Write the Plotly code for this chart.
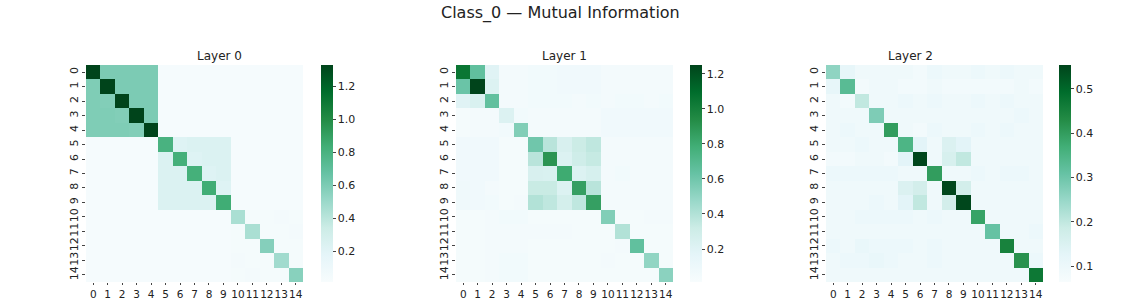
import plotly.graph_objects as go

labels = [str(i) for i in range(15)]
title_text = "Class_0 — Mutual Information"
layer_titles = ["Layer 0", "Layer 1", "Layer 2"]

layer0 = [
    [1.33, 0.60, 0.60, 0.60, 0.60, 0.03, 0.03, 0.03, 0.03, 0.03, 0.03, 0.03, 0.03, 0.03, 0.03],
    [0.59, 1.33, 0.60, 0.60, 0.60, 0.03, 0.03, 0.03, 0.03, 0.03, 0.03, 0.03, 0.03, 0.03, 0.03],
    [0.59, 0.58, 1.33, 0.60, 0.60, 0.03, 0.03, 0.03, 0.03, 0.03, 0.03, 0.03, 0.03, 0.03, 0.03],
    [0.59, 0.59, 0.58, 1.33, 0.60, 0.03, 0.03, 0.03, 0.03, 0.03, 0.03, 0.03, 0.03, 0.03, 0.03],
    [0.59, 0.59, 0.59, 0.58, 1.33, 0.03, 0.03, 0.03, 0.03, 0.03, 0.03, 0.03, 0.03, 0.03, 0.03],
    [0.03, 0.03, 0.03, 0.03, 0.03, 0.80, 0.22, 0.24, 0.24, 0.24, 0.03, 0.03, 0.03, 0.03, 0.03],
    [0.03, 0.03, 0.03, 0.03, 0.03, 0.24, 0.82, 0.22, 0.24, 0.24, 0.03, 0.03, 0.03, 0.03, 0.03],
    [0.03, 0.03, 0.03, 0.03, 0.03, 0.24, 0.24, 0.82, 0.22, 0.24, 0.03, 0.03, 0.03, 0.03, 0.03],
    [0.03, 0.03, 0.03, 0.03, 0.03, 0.24, 0.24, 0.24, 0.84, 0.22, 0.03, 0.03, 0.03, 0.03, 0.03],
    [0.03, 0.03, 0.03, 0.03, 0.03, 0.24, 0.24, 0.24, 0.24, 0.84, 0.03, 0.03, 0.03, 0.03, 0.03],
    [0.03, 0.03, 0.03, 0.03, 0.03, 0.03, 0.03, 0.03, 0.03, 0.03, 0.45, 0.04, 0.04, 0.05, 0.04],
    [0.03, 0.03, 0.03, 0.03, 0.03, 0.03, 0.03, 0.03, 0.03, 0.03, 0.04, 0.45, 0.04, 0.04, 0.05],
    [0.03, 0.03, 0.03, 0.03, 0.03, 0.03, 0.03, 0.03, 0.03, 0.03, 0.04, 0.04, 0.57, 0.04, 0.04],
    [0.03, 0.03, 0.03, 0.03, 0.03, 0.03, 0.03, 0.03, 0.03, 0.03, 0.05, 0.04, 0.04, 0.48, 0.04],
    [0.03, 0.03, 0.03, 0.03, 0.03, 0.03, 0.03, 0.03, 0.03, 0.03, 0.04, 0.05, 0.04, 0.04, 0.56],
]

layer1 = [
    [1.05, 0.65, 0.20, 0.05, 0.05, 0.06, 0.06, 0.07, 0.07, 0.07, 0.05, 0.05, 0.05, 0.05, 0.05],
    [0.62, 1.25, 0.22, 0.05, 0.05, 0.06, 0.06, 0.07, 0.07, 0.07, 0.05, 0.05, 0.05, 0.05, 0.05],
    [0.20, 0.24, 0.65, 0.05, 0.05, 0.06, 0.06, 0.06, 0.05, 0.06, 0.05, 0.06, 0.06, 0.05, 0.06],
    [0.04, 0.05, 0.05, 0.22, 0.06, 0.05, 0.05, 0.05, 0.05, 0.05, 0.07, 0.07, 0.07, 0.07, 0.07],
    [0.04, 0.05, 0.05, 0.06, 0.55, 0.05, 0.05, 0.05, 0.05, 0.05, 0.07, 0.07, 0.07, 0.07, 0.07],
    [0.07, 0.07, 0.07, 0.04, 0.04, 0.60, 0.38, 0.25, 0.32, 0.36, 0.05, 0.05, 0.05, 0.05, 0.05],
    [0.07, 0.07, 0.07, 0.04, 0.04, 0.38, 0.90, 0.22, 0.30, 0.34, 0.05, 0.05, 0.05, 0.05, 0.05],
    [0.07, 0.07, 0.07, 0.04, 0.04, 0.25, 0.24, 0.80, 0.22, 0.26, 0.05, 0.06, 0.05, 0.05, 0.05],
    [0.08, 0.07, 0.05, 0.04, 0.04, 0.33, 0.33, 0.22, 0.85, 0.38, 0.05, 0.05, 0.05, 0.05, 0.05],
    [0.08, 0.07, 0.06, 0.04, 0.05, 0.40, 0.36, 0.27, 0.36, 0.85, 0.05, 0.05, 0.05, 0.05, 0.05],
    [0.04, 0.04, 0.05, 0.06, 0.06, 0.04, 0.04, 0.04, 0.04, 0.04, 0.55, 0.04, 0.04, 0.05, 0.05],
    [0.04, 0.04, 0.05, 0.05, 0.05, 0.05, 0.05, 0.05, 0.04, 0.04, 0.04, 0.40, 0.04, 0.04, 0.04],
    [0.04, 0.04, 0.05, 0.05, 0.05, 0.04, 0.04, 0.04, 0.04, 0.04, 0.04, 0.05, 0.65, 0.04, 0.04],
    [0.04, 0.04, 0.05, 0.06, 0.06, 0.04, 0.04, 0.04, 0.04, 0.04, 0.05, 0.04, 0.04, 0.50, 0.04],
    [0.04, 0.04, 0.05, 0.06, 0.06, 0.04, 0.04, 0.04, 0.04, 0.04, 0.04, 0.04, 0.04, 0.04, 0.52],
]

layer2 = [
    [0.26, 0.12, 0.09, 0.09, 0.09, 0.09, 0.08, 0.10, 0.09, 0.09, 0.10, 0.09, 0.10, 0.09, 0.09],
    [0.12, 0.33, 0.08, 0.09, 0.09, 0.08, 0.08, 0.09, 0.08, 0.08, 0.08, 0.08, 0.08, 0.09, 0.08],
    [0.09, 0.08, 0.20, 0.09, 0.09, 0.10, 0.09, 0.10, 0.09, 0.09, 0.10, 0.09, 0.10, 0.09, 0.09],
    [0.09, 0.09, 0.09, 0.28, 0.09, 0.09, 0.09, 0.09, 0.09, 0.09, 0.09, 0.09, 0.09, 0.10, 0.09],
    [0.09, 0.10, 0.09, 0.09, 0.40, 0.09, 0.08, 0.10, 0.09, 0.09, 0.10, 0.09, 0.10, 0.09, 0.09],
    [0.09, 0.09, 0.10, 0.09, 0.09, 0.35, 0.13, 0.09, 0.15, 0.13, 0.09, 0.09, 0.09, 0.09, 0.09],
    [0.08, 0.08, 0.09, 0.09, 0.08, 0.13, 0.55, 0.09, 0.16, 0.20, 0.09, 0.09, 0.09, 0.09, 0.09],
    [0.10, 0.10, 0.10, 0.10, 0.10, 0.09, 0.09, 0.40, 0.09, 0.09, 0.10, 0.09, 0.10, 0.10, 0.09],
    [0.09, 0.09, 0.09, 0.09, 0.09, 0.15, 0.17, 0.09, 0.55, 0.17, 0.09, 0.09, 0.09, 0.09, 0.09],
    [0.09, 0.09, 0.09, 0.10, 0.09, 0.13, 0.20, 0.09, 0.17, 0.55, 0.09, 0.09, 0.09, 0.09, 0.09],
    [0.09, 0.09, 0.10, 0.10, 0.10, 0.10, 0.09, 0.10, 0.09, 0.09, 0.39, 0.09, 0.09, 0.09, 0.09],
    [0.09, 0.09, 0.09, 0.09, 0.09, 0.09, 0.09, 0.09, 0.09, 0.09, 0.09, 0.31, 0.09, 0.09, 0.10],
    [0.10, 0.09, 0.11, 0.10, 0.10, 0.10, 0.09, 0.10, 0.09, 0.09, 0.09, 0.09, 0.45, 0.09, 0.09],
    [0.09, 0.10, 0.10, 0.11, 0.10, 0.09, 0.09, 0.10, 0.09, 0.09, 0.09, 0.09, 0.09, 0.42, 0.10],
    [0.09, 0.09, 0.09, 0.09, 0.09, 0.09, 0.09, 0.09, 0.09, 0.09, 0.09, 0.09, 0.09, 0.09, 0.47],
]

zranges = [(0.012, 1.33), (0.012, 1.25), (0.064, 0.554)]
cbar_ticks = [[0.2, 0.4, 0.6, 0.8, 1.0, 1.2], [0.2, 0.4, 0.6, 0.8, 1.0, 1.2], [0.1, 0.2, 0.3, 0.4, 0.5]]

W, H = 1121, 299
hm_left = [86, 456, 826]
hm_w = 217
hm_top, hm_bot = 65, 282
cb_left = [321, 690, 1059]
sub_title_y = 56
main_title = (560, 13)

font = "DejaVu Sans"
fig = go.Figure()
annotations = []
for i, z in enumerate([layer0, layer1, layer2]):
    ax = "" if i == 0 else str(i + 1)
    x0 = hm_left[i] / W
    x1 = (hm_left[i] + hm_w) / W
    fig.add_trace(go.Heatmap(
        z=z, x=labels, y=labels,
        colorscale="BuGn", zmin=zranges[i][0], zmax=zranges[i][1],
        xaxis="x" + ax, yaxis="y" + ax,
        colorbar=dict(
            x=cb_left[i] / W, xanchor="left", xpad=0, ypad=0,
            thickness=12, thicknessmode="pixels",
            len=(hm_bot - hm_top) / H, lenmode="fraction",
            y=1 - (hm_top + hm_bot) / 2 / H, yanchor="middle",
            outlinewidth=0, tickvals=cbar_ticks[i], tickformat=".1f",
            ticks="outside", ticklen=3,
            tickfont=dict(family=font, size=11, color="#222"),
        ),
    ))
    fig.layout["xaxis" + ax] = dict(
        domain=[x0, x1], anchor="y" + ax, type="category", automargin=False,
        tickfont=dict(family=font, size=10.5, color="#222"), tickangle=0,
        ticks="outside", ticklen=2, showgrid=False, zeroline=False, showline=False,
    )
    fig.layout["yaxis" + ax] = dict(
        domain=[1 - hm_bot / H, 1 - hm_top / H], anchor="x" + ax, type="category",
        autorange="reversed", tickangle=-90, automargin=False,
        tickfont=dict(family=font, size=11, color="#222"),
        ticks="outside", ticklen=3, showgrid=False, zeroline=False, showline=False,
    )
    annotations.append(dict(
        text=layer_titles[i], x=(x0 + x1) / 2, y=1 - sub_title_y / H, xref="paper", yref="paper",
        showarrow=False, font=dict(family=font, size=12, color="#222"), yanchor="middle",
    ))

annotations.append(dict(
    text=title_text, x=main_title[0] / W, y=1 - main_title[1] / H, xref="paper", yref="paper",
    showarrow=False, font=dict(family=font, size=16, color="#222"), yanchor="middle",
))

fig.update_layout(
    width=W, height=H, margin=dict(l=0, r=0, t=0, b=0),
    paper_bgcolor="white", plot_bgcolor="white", annotations=annotations,
)

fig.write_html("out.html", config={"displayModeBar": False},
               post_script="document.body.style.margin='0';")
